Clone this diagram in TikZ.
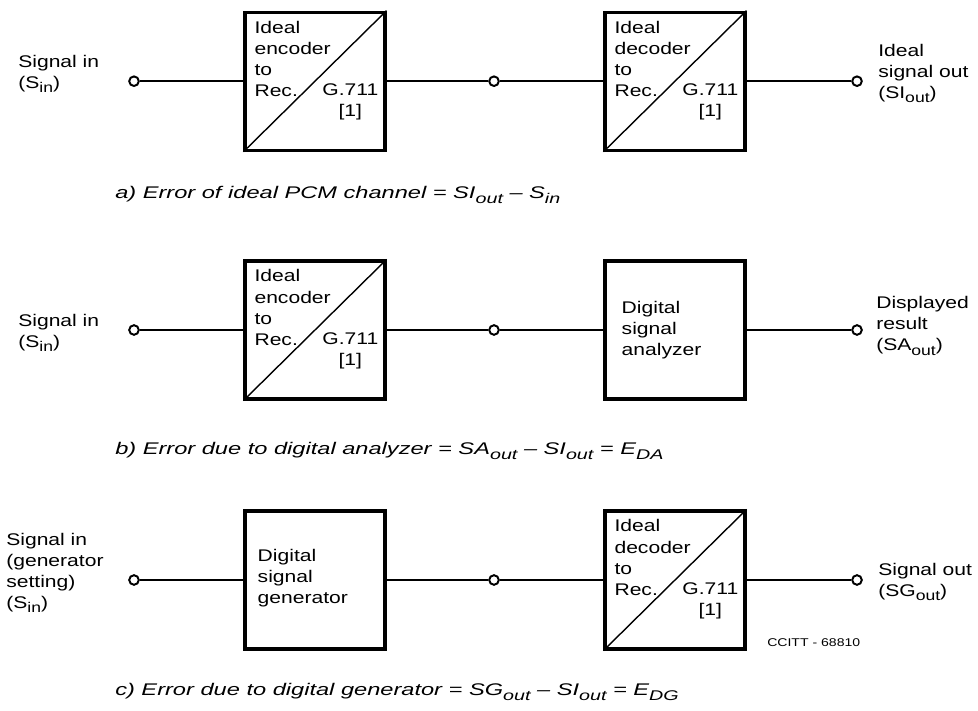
\documentclass[tikz,border=0pt]{standalone}
\usepackage{fontspec}
\setmainfont[FakeStretch=1.25]{Liberation Sans}
\newfontfamily\capfont[FakeStretch=1.4]{Liberation Sans}
\newcommand{\lo}[1]{\raisebox{-0.5ex}{\fontsize{10}{10}\selectfont #1}}

\begin{document}
\begin{tikzpicture}[
  blk/.style={draw,line width=2.2pt,minimum width=3.5cm,minimum height=3.45cm,inner sep=0pt},
  term/.style={draw,circle,line width=1.4pt,fill=white,minimum size=0.24cm,inner sep=0pt},
  txt/.style={inner sep=0pt,align=left,font=\fontsize{12}{15}\selectfont},
  captxt/.style={txt,anchor=west,font=\fontsize{12}{15}\capfont\itshape},
  wire/.style={line width=1pt}]
\useasboundingbox (0,0) rectangle (24.45,17.75);
% a) ideal channel
\node[term] (inA) at (3.35,15.72) {};
\node[blk] (encA) at (7.875,15.72) {};
\node[term] (midA) at (12.35,15.72) {};
\node[blk] (decA) at (16.875,15.72) {};
\node[term] (outA) at (21.425,15.72) {};
\draw[wire] (inA) -- (encA);
\draw[wire] (encA) -- (midA);
\draw[wire] (midA) -- (decA);
\draw[wire] (decA) -- (outA);
\node[txt,anchor=west] (sinA) at (0.45,15.9) {Signal in\\(S\lo{in})};
\node[txt,anchor=west] (soutA) at (21.95,15.91) {Ideal\\signal out\\(SI\lo{out})};
\node[captxt] (capA) at (2.875,12.875) {a) Error of ideal PCM channel = SI\lo{out} – S\lo{in}};
% b) digital analyzer
\node[term] (inB) at (3.35,9.5) {};
\node[blk] (encB) at (7.875,9.5) {};
\node[term] (midB) at (12.35,9.5) {};
\node[blk] (anaB) at (16.875,9.5) {};
\node[term] (outB) at (21.425,9.5) {};
\draw[wire] (inB) -- (encB);
\draw[wire] (encB) -- (midB);
\draw[wire] (midB) -- (anaB);
\draw[wire] (anaB) -- (outB);
\node[txt,anchor=west] at ([xshift=0.45cm]anaB.west) {Digital\\signal\\analyzer};
\node[txt,anchor=west] (sinB) at (0.45,9.43) {Signal in\\(S\lo{in})};
\node[txt,anchor=west] (soutB) at (21.9,9.6) {Displayed\\result\\(SA\lo{out})};
\node[captxt] (capB) at (2.875,6.48) {b) Error due to digital analyzer = SA\lo{out} – SI\lo{out} = E\lo{DA}};
% c) digital generator
\node[term] (inC) at (3.35,3.25) {};
\node[blk] (genC) at (7.875,3.25) {};
\node[term] (midC) at (12.35,3.25) {};
\node[blk] (decC) at (16.875,3.25) {};
\node[term] (outC) at (21.425,3.25) {};
\draw[wire] (inC) -- (genC);
\draw[wire] (genC) -- (midC);
\draw[wire] (midC) -- (decC);
\draw[wire] (decC) -- (outC);
\node[txt,anchor=west] at ([shift={(0.35cm,0.05cm)}]genC.west) {Digital\\signal\\generator};
\node[txt,anchor=west] (sinC) at (0.15,3.43) {Signal in\\(generator\\setting)\\(S\lo{in})};
\node[txt,anchor=west] (soutC) at (21.95,3.2) {Signal out\\(SG\lo{out})};
\node[captxt] (capC) at (2.875,0.45) {c) Error due to digital generator = SG\lo{out} – SI\lo{out} = E\lo{DG}};
\node[inner sep=0pt,anchor=west,font=\fontsize{8}{9}\selectfont] (ref) at (19.175,1.675) {CCITT - 68810};
% G.711 boxes with diagonal
\foreach \b/\w in {encA/encoder,decA/decoder,encB/encoder,decC/decoder}{
  \draw[wire] (\b.south west) -- (\b.north east);
  \node[txt,anchor=north west] at ([shift={(0.27,-0.25)}]\b.north west) {Ideal\\\w\\to\\Rec.};
  \node[txt,align=center,anchor=north east] at ([shift={(-0.2,-1.83)}]\b.north east) {G.711\\{[1]}};
}
\end{tikzpicture}
\end{document}
